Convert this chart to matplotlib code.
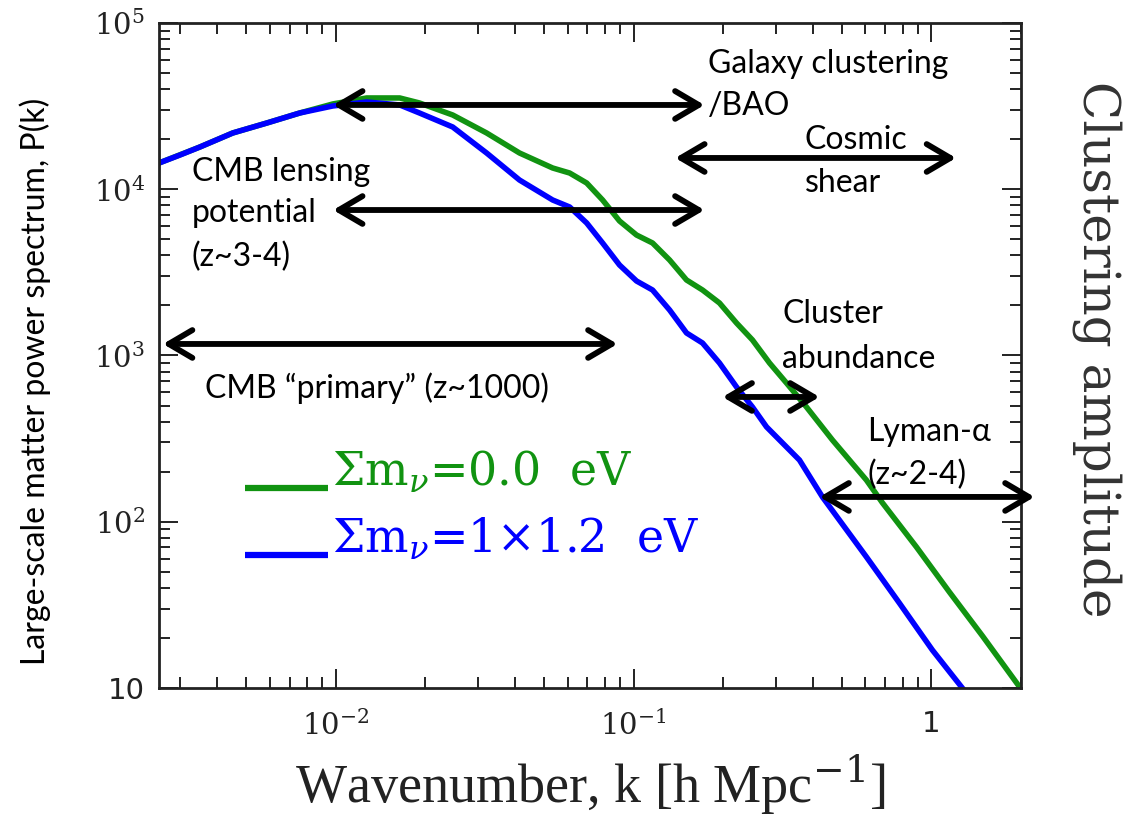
import matplotlib
matplotlib.use("Agg")
import matplotlib.pyplot as plt
from matplotlib.ticker import LogLocator, FixedLocator, NullFormatter

plt.rcParams["mathtext.fontset"] = "dejavuserif"

# matter power spectrum, massless neutrinos
k_massless = [0.00255, 0.00350, 0.00451, 0.00587, 0.00757, 0.00977, 0.0127,
              0.0164, 0.0191, 0.0247, 0.0321, 0.0414, 0.0535, 0.0610, 0.0696,
              0.0787, 0.0897, 0.1023, 0.1158, 0.1321, 0.1506, 0.1704, 0.1943,
              0.2216, 0.2507, 0.2861, 0.3262, 0.3806, 0.4654, 0.6052, 0.6848,
              0.8907, 1.149, 1.483, 1.989]
p_massless = [14380, 17960, 21800, 25030, 28750, 32570, 35400,
              35400, 33030, 27960, 21800, 16520, 13420, 12520, 10900,
              8615, 6442, 5305, 4750, 3753, 2845, 2477, 2069,
              1569, 1240, 901, 683, 490, 310, 178, 130,
              70.5, 37.8, 20.6, 10.0]

# matter power spectrum, sum of neutrino masses 1.2 eV
k_massive = [0.00255, 0.00300, 0.00350, 0.00451, 0.00587, 0.00757, 0.00977,
             0.0127, 0.0164, 0.0191, 0.0247, 0.0321, 0.0414, 0.0535, 0.0610,
             0.0696, 0.0787, 0.0897, 0.1023, 0.1158, 0.1321, 0.1506, 0.1704,
             0.1943, 0.2216, 0.2507, 0.2795, 0.3606, 0.4306, 0.6052, 0.7810,
             1.008, 1.270]
p_massive = [14380, 16070, 17960, 21800, 25030, 28750, 31680,
             33480, 32130, 28750, 23680, 16520, 11360, 8615, 7821,
             6266, 4750, 3502, 2806, 2477, 1878, 1366, 1189,
             901, 647, 490, 372, 235, 141, 61.4, 32.4,
             16.9, 10.0]

# probe ranges: (k_min, k_max, height on plot)
probe_ranges = [
    (0.0098, 0.173, 32130),   # galaxy clustering / BAO
    (0.138, 1.21, 15420),     # cosmic shear
    (0.0098, 0.173, 7500),    # CMB lensing
    (0.00263, 0.0883, 1173),  # CMB primary
    (0.199, 0.421, 563),      # cluster abundance
    (0.421, 2.22, 141),       # Lyman-alpha
]

probe_labels = [
    ("Galaxy clustering", 0.637, 0.938),
    ("/BAO", 0.637, 0.875),
    ("Cosmic", 0.749, 0.824),
    ("shear", 0.749, 0.759),
    ("CMB lensing", 0.038, 0.776),
    ("potential", 0.038, 0.714),
    ("(z~3-4)", 0.038, 0.648),
    ("CMB \u201cprimary\u201d (z~1000)", 0.053, 0.451),
    ("Cluster", 0.723, 0.562),
    ("abundance", 0.723, 0.495),
    ("Lyman-\u03b1", 0.822, 0.385),
    ("(z~2-4)", 0.822, 0.320),
]

x_ticks = [0.01, 0.1, 1]
x_ticklabels = [r"$10^{-2}$", r"$10^{-1}$", "1"]
y_ticks = [10, 100, 1000, 1e4, 1e5]
y_ticklabels = ["10", r"$10^{2}$", r"$10^{3}$", r"$10^{4}$", r"$10^{5}$"]

green = "#119311"
blue = "#0000ff"

fig = plt.figure(figsize=(11.35, 8.21), dpi=100)
ax = fig.add_axes([0.1401, 0.162, 0.7595, 0.810])

ax.plot(k_massless, p_massless, color=green, lw=4, solid_joinstyle="round")
ax.plot(k_massive, p_massive, color=blue, lw=4, solid_joinstyle="round")

ax.set_xscale("log")
ax.set_yscale("log")
ax.set_xlim(0.00255, 2.0)
ax.set_ylim(10, 1e5)

for lo, hi, p in probe_ranges:
    ax.annotate("", xy=(hi, p), xytext=(lo, p),
                arrowprops=dict(arrowstyle="<->,head_length=0.85,head_width=0.5",
                                color="black", lw=4.2, mutation_scale=20,
                                shrinkA=0, shrinkB=0, capstyle="round",
                                joinstyle="round"),
                annotation_clip=False)

for txt, x, y in probe_labels:
    ax.text(x, y, txt, transform=ax.transAxes, ha="left", va="center",
            fontsize=23, family="Lato", color="black")

# legend drawn by hand: short line with label to its right
ax.plot([0.0998, 0.1961], [0.301, 0.301], transform=ax.transAxes,
        color=green, lw=4.5, solid_capstyle="butt")
ax.plot([0.0998, 0.1961], [0.200, 0.200], transform=ax.transAxes,
        color=blue, lw=4.5, solid_capstyle="butt")
ax.text(0.2007, 0.323, "\u03a3m$_{\\nu}$=0.0  eV", transform=ax.transAxes,
        ha="left", va="center", fontsize=33, family="DejaVu Serif",
        color=green)
ax.text(0.2007, 0.2226, "\u03a3m$_{\\nu}$=1\u00d71.2  eV", transform=ax.transAxes,
        ha="left", va="center", fontsize=33, family="DejaVu Serif",
        color=blue)

# ticks on all four sides, pointing inward
ax.xaxis.set_major_locator(FixedLocator(x_ticks))
ax.set_xticklabels(x_ticklabels)
ax.yaxis.set_major_locator(FixedLocator(y_ticks))
ax.set_yticklabels(y_ticklabels)
ax.xaxis.set_minor_locator(LogLocator(base=10, subs=range(2, 10), numticks=20))
ax.yaxis.set_minor_locator(LogLocator(base=10, subs=range(2, 10), numticks=20))
ax.xaxis.set_minor_formatter(NullFormatter())
ax.yaxis.set_minor_formatter(NullFormatter())
ax.tick_params(which="both", direction="in", top=True, right=True,
               width=1.4, color="#222222")
ax.tick_params(which="major", length=14)
ax.tick_params(which="minor", length=8)
ax.tick_params(axis="x", which="major", pad=16, labelsize=21)
ax.tick_params(axis="y", which="major", pad=10, labelsize=21)
for lab in ax.get_xticklabels() + ax.get_yticklabels():
    lab.set_family("DejaVu Sans")
    lab.set_color("#222222")
for sp in ax.spines.values():
    sp.set_linewidth(2)
    sp.set_color("#222222")

fig.text(0.031, 0.535, "Large-scale matter power spectrum, P(k)", rotation=90,
         ha="center", va="center", fontsize=23, family="Lato")
fig.text(0.520, 0.022, "Wavenumber, k [h Mpc$^{-1}$]", ha="center",
         va="baseline", fontsize=39, family="Liberation Serif", color="#222222")
fig.text(0.9665, 0.574, "Clustering amplitude", rotation=-90, ha="center",
         va="center", fontsize=36, family="DejaVu Serif", color="#333333")

fig.savefig("out.png", dpi=100)
